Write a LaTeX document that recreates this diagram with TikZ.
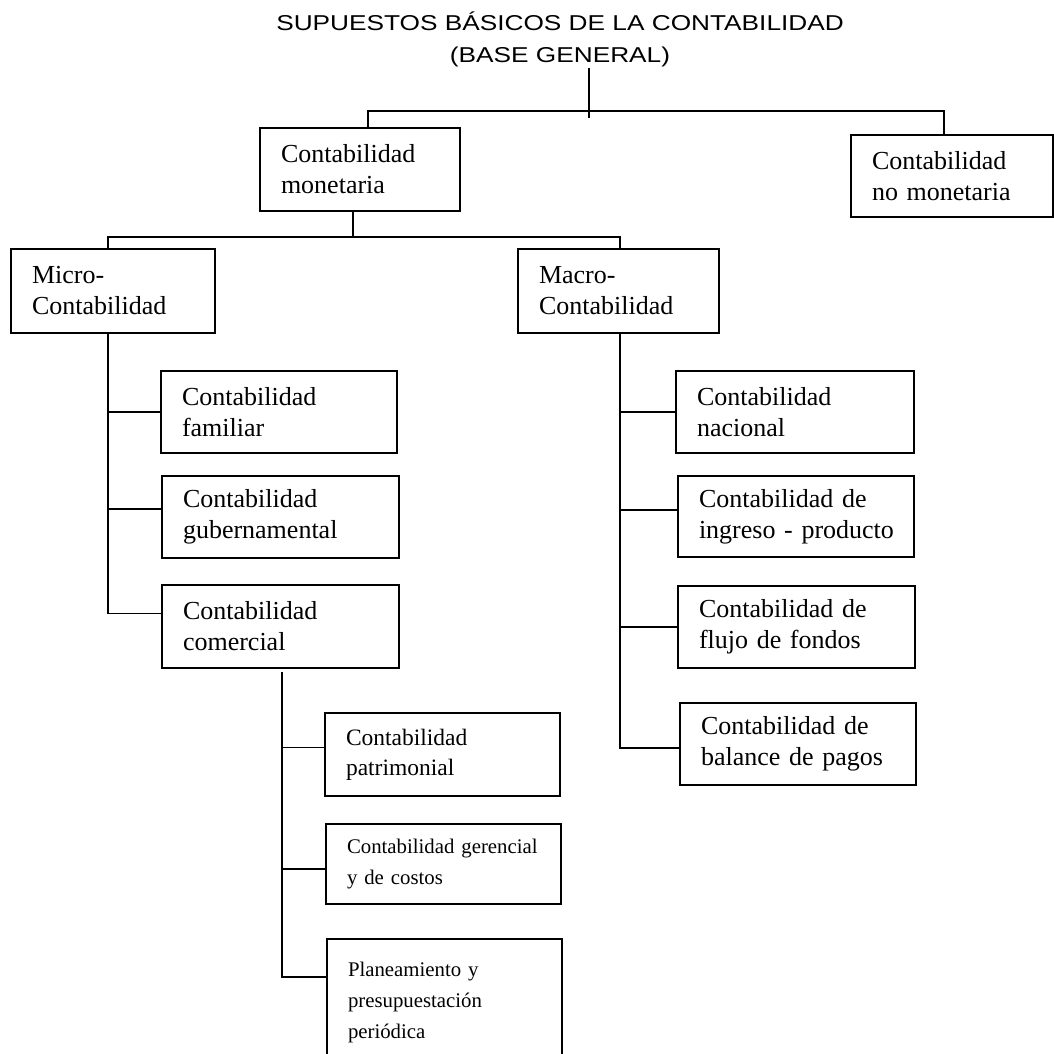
\documentclass[tikz,border=0pt]{standalone}
\usepackage{fontspec}
\setmainfont{Liberation Serif}
\newfontfamily\titulofont[FakeStretch=1.22]{Liberation Sans}

\begin{document}
\begin{tikzpicture}[
  x=1pt, y=-1pt,
  caja/.style 2 args={draw, rectangle, line width=2pt, inner sep=0pt, anchor=north west,
    minimum width=#1pt, minimum height=#2pt,
    /utils/exec={\pgfmathsetmacro\anchotexto{#1-42}}, text width=\anchotexto pt,
    align=left, font=\fontsize{26}{31}\selectfont},
  chica/.style={font=\fontsize{20.8}{31}\selectfont},
  rama/.style={line width=1.8pt}
]
  \useasboundingbox (0,0) rectangle (1054,1054);
  \node[font=\titulofont\fontsize{21.5}{32}\selectfont, align=center, inner sep=1pt] (titulo) at (560,39) {SUPUESTOS BÁSICOS DE LA CONTABILIDAD\\(BASE GENERAL)};
  % primer nivel
  \node[caja={200}{83}] (monetaria) at (259,127) {Contabilidad\\monetaria};
  \node[caja={202}{82}] (nomonetaria) at (850,134) {Contabilidad\\no monetaria};
  % segundo nivel
  \node[caja={204}{84}] (micro) at (10,248) {Micro-\\Contabilidad};
  \node[caja={201}{84}] (macro) at (517,248) {Macro-\\Contabilidad};
  % micro
  \node[caja={236}{82}] (familiar) at (160,370) {Contabilidad\\familiar};
  \node[caja={237}{82}] (guber) at (161,475) {Contabilidad\\gubernamental};
  \node[caja={237}{83}] (comercial) at (161,584) {Contabilidad\\comercial};
  \node[caja={235}{83}, font=\fontsize{23.5}{30}\selectfont] (patrimonial) at (324,712) {Contabilidad\\patrimonial};
  \node[caja={235}{80}, chica] (gerencial) at (325,823) {\mbox{Contabilidad gerencial}\\y de costos};
  \node[caja={235}{126}, chica] (planea) at (326,938) {Planeamiento y\\presupuestación\\periódica};
  % macro
  \node[caja={238}{82}] (nacional) at (675,370) {Contabilidad\\nacional};
  \node[caja={236}{81}] (ingreso) at (677,475) {Contabilidad de\\\mbox{ingreso - producto}};
  \node[caja={237}{82}] (flujo) at (677,585) {Contabilidad de\\flujo de fondos};
  \node[caja={236}{82}] (balance) at (679,702) {Contabilidad de\\balance de pagos};

  \coordinate (raiz) at (589,111);
  \coordinate (cmon) at (368,111);
  \coordinate (cnomon) at (944,111);
  \coordinate (nudo) at (353,237);
  \coordinate (cmic) at (108,237);
  \coordinate (cmac) at (620,237);
  \coordinate (tmicro) at (108,332);
  \coordinate (tmacro) at (620,332);
  \coordinate (tcom) at (282,672);

  \draw[rama] (raiz |- titulo.south) -- ([yshift=-7pt]raiz);
  \draw[rama] (cmon |- monetaria.north) -- (cmon) -- (cnomon) -- (cnomon |- nomonetaria.north);
  \draw[rama] (nudo |- monetaria.south) -- (nudo);
  \draw[rama] (cmic |- micro.north) -- (cmic) -- (cmac) -- (cmac |- macro.north);
  \draw[rama] (tmicro) |- (familiar.west);
  \draw[rama] (tmicro) |- ([yshift=8pt]guber.west);
  \draw[rama] (tmicro) |- ([yshift=13pt]comercial.west);
  \draw[rama] (tmacro) |- (nacional.west);
  \draw[rama] (tmacro) |- ([yshift=6.5pt]ingreso.west);
  \draw[rama] (tmacro) |- (flujo.west);
  \draw[rama] (tmacro) |- ([yshift=-4pt]balance.west);
  \draw[rama] (tcom) |- ([yshift=7pt]patrimonial.west);
  \draw[rama] (tcom) |- ([yshift=-5pt]gerencial.west);
  \draw[rama] (tcom) |- ([yshift=-39pt]planea.north west);
\end{tikzpicture}
\end{document}
